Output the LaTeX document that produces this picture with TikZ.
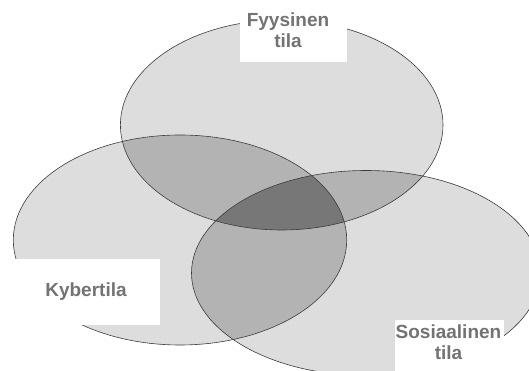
\documentclass[tikz,border=0pt]{standalone}
\usepackage{fontspec}
\setmainfont{Liberation Sans}
\usetikzlibrary{positioning}
\definecolor{fillC}{RGB}{221,221,221}
\definecolor{overlapC}{RGB}{179,179,179}
\definecolor{coreC}{RGB}{119,119,119}
\definecolor{lineC}{RGB}{60,60,60}
\definecolor{labelC}{RGB}{115,115,115}

\begin{document}
\begin{tikzpicture}[x=1pt,y=1pt,
  spacebox/.style={anchor=north west,fill=white,inner sep=0pt,shape=rectangle},
  spacetext/.style={text=labelC,align=center,inner sep=0pt,
    font=\fontsize{19pt}{21pt}\selectfont\bfseries}]
\useasboundingbox (0,0) rectangle (529,371);
\clip (0,0) rectangle (529,371);

\coordinate (fyysC) at (281.7,246);
\coordinate (kyberC) at (180,131);
\coordinate (sosC) at (366,98);

% three spaces
\fill[fillC] (fyysC) ellipse (161.3pt and 105pt);
\fill[fillC] (kyberC) ellipse (166.7pt and 105pt);
\fill[fillC] (sosC) ellipse (174.5pt and 102.5pt);

% pairwise overlaps
\begin{scope}
\clip (fyysC) ellipse (161.3pt and 105pt);
\fill[overlapC] (kyberC) ellipse (166.7pt and 105pt);
\fill[overlapC] (sosC) ellipse (174.5pt and 102.5pt);
\end{scope}
\begin{scope}
\clip (kyberC) ellipse (166.7pt and 105pt);
\fill[overlapC] (sosC) ellipse (174.5pt and 102.5pt);
\end{scope}

% all three
\begin{scope}
\clip (fyysC) ellipse (161.3pt and 105pt);
\clip (kyberC) ellipse (166.7pt and 105pt);
\fill[coreC] (sosC) ellipse (174.5pt and 102.5pt);
\end{scope}

\draw[lineC,line width=0.6pt] (fyysC) ellipse (161.3pt and 105pt);
\draw[lineC,line width=0.6pt] (kyberC) ellipse (166.7pt and 105pt);
\draw[lineC,line width=0.6pt] (sosC) ellipse (174.5pt and 102.5pt);

% labels
\node[spacebox,minimum width=106.7pt,minimum height=62pt] (box0) at (240,371) {};
\node[spacebox,minimum width=159.3pt,minimum height=66pt] (box1) at (0,112) {};
\node[spacebox,minimum width=109pt,minimum height=52pt] (box2) at (394.3,51) {};

\node[spacetext] (fyys) at (288,340.45) {Fyysinen\\tila};
\node[spacetext] (kyber) at (86,79.8) {Kybertila};
\node[spacetext] (sos) at (448.5,29.15) {Sosiaalinen\\tila};

\end{tikzpicture}
\end{document}
